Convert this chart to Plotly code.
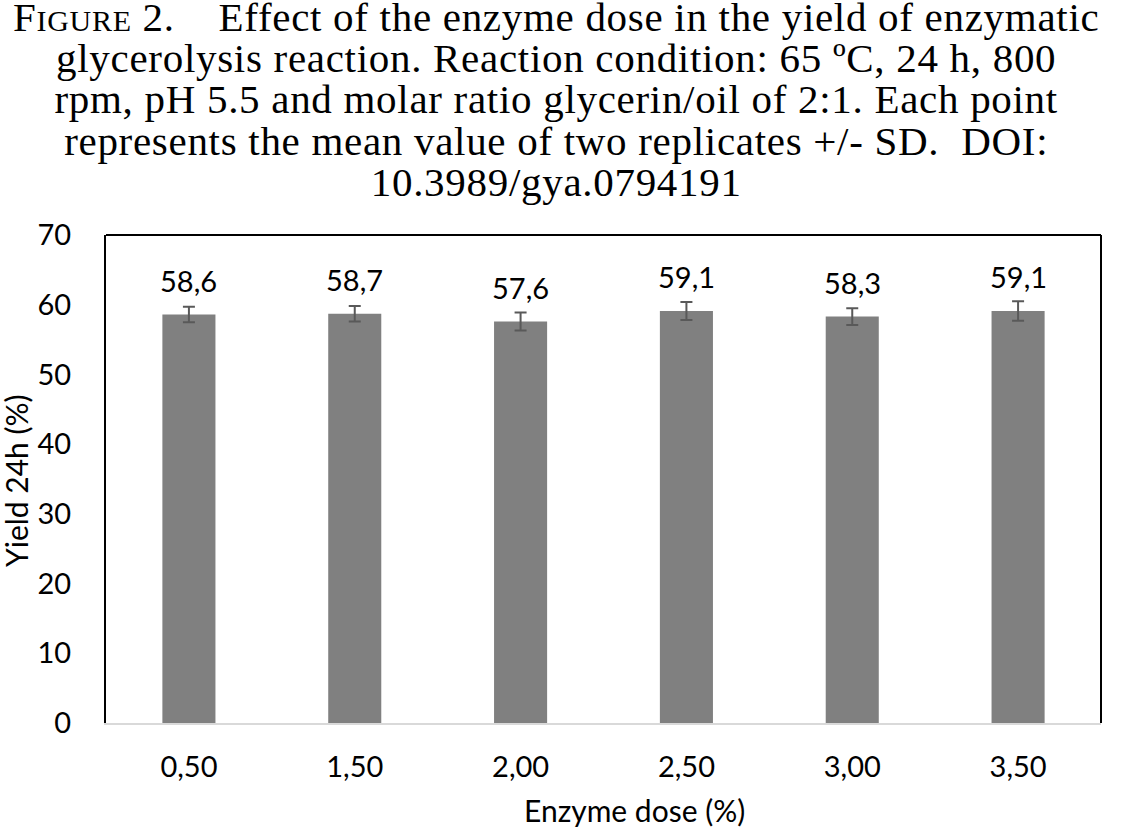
import plotly.graph_objects as go

categories = ["0,50", "1,50", "2,00", "2,50", "3,00", "3,50"]
yield_values = [58.6, 58.7, 57.6, 59.1, 58.3, 59.1]
sd_values = [1.1, 1.1, 1.3, 1.3, 1.2, 1.4]
y_ticks = [0, 10, 20, 30, 40, 50, 60, 70]

title_lines = [
    "F<span style='font-size:30px'>IGURE</span> 2.\u00a0\u00a0\u00a0\u00a0Effect of the enzyme dose in the yield of enzymatic",
    "glycerolysis reaction. Reaction condition: 65 ºC, 24 h, 800",
    "rpm, pH 5.5 and molar ratio glycerin/oil of 2:1. Each point",
    "represents the mean value of two replicates +/- SD.\u00a0\u00a0DOI:",
    "10.3989/gya.0794191",
]
x_title = "Enzyme dose (%)"
y_title = "Yield 24h (%)"

W, H = 1143, 828
ML, MR, MT, MB = 106, 42, 235, 105
plot_w = W - ML - MR
plot_h = H - MT - MB

SANS = "Lato, 'Open Sans', sans-serif"
SERIF = "'Liberation Serif', 'Times New Roman', serif"


def px_to_paper_x(px):
    return (px - ML) / plot_w


def px_to_paper_y(py):
    return (H - MB - py) / plot_h


fig = go.Figure()
fig.add_trace(go.Bar(
    x=categories, y=yield_values,
    marker=dict(color="#808080", line=dict(width=0)),
    error_y=dict(type="data", array=sd_values, visible=True,
                 color="#595959", thickness=2, width=6),
    hoverinfo="skip",
))

annotations = []
for c, v in zip(categories, yield_values):
    annotations.append(dict(
        x=c, y=v, xref="x", yref="y", text=f"{v:.1f}".replace(".", ","),
        showarrow=False, yanchor="middle", yshift=34,
        font=dict(family=SANS, size=29, color="#000000"),
    ))

# Caption: one block, tight line spacing (base size sets the line pitch)
caption = "<br>".join(
    "<span style='font-size:41px;letter-spacing:0.7px'>" + t + "</span>" for t in title_lines
)
annotations.append(dict(
    x=px_to_paper_x(556), y=px_to_paper_y(207), xref="paper", yref="paper",
    text=caption, showarrow=False, xanchor="center", yanchor="bottom",
    align="center",
    font=dict(family=SERIF, size=31.7, color="#000000"),
))

# axis titles
annotations.append(dict(
    x=px_to_paper_x(634), y=px_to_paper_y(810), xref="paper", yref="paper",
    text=x_title, showarrow=False, xanchor="center", yanchor="middle",
    font=dict(family=SANS, size=30, color="#000000"),
))
annotations.append(dict(
    x=px_to_paper_x(16), y=px_to_paper_y(481), xref="paper", yref="paper",
    text=y_title, showarrow=False, xanchor="center", yanchor="middle",
    textangle=-90,
    font=dict(family=SANS, size=30, color="#000000"),
))

fig.update_layout(
    width=W, height=H,
    margin=dict(l=ML, r=MR, t=MT, b=MB, pad=0),
    paper_bgcolor="white", plot_bgcolor="white",
    showlegend=False,
    bargap=0.68,
    annotations=annotations,
    xaxis=dict(
        tickfont=dict(family=SANS, size=29, color="#000"),
        showline=True, linecolor="#d9d9d9", linewidth=2,
        ticks="", ticklabelstandoff=17, showgrid=False,
        automargin=False,
    ),
    yaxis=dict(
        tickfont=dict(family=SANS, size=29, color="#000"),
        range=[0, 70], tickvals=y_ticks,
        showline=True, linecolor="#000", linewidth=2,
        ticks="", ticklabelstandoff=27, showgrid=False, zeroline=False,
        automargin=False,
    ),
    shapes=[
        dict(type="line", xref="paper", yref="paper", x0=0, x1=1, y0=1, y1=1,
             line=dict(color="#000", width=2)),
        dict(type="line", xref="paper", yref="paper", x0=1, x1=1, y0=0, y1=1,
             line=dict(color="#000", width=2)),
    ],
)

fig.write_html(
    "out.html",
    config={"displayModeBar": False},
    post_script="document.body.style.margin='0';document.body.style.overflow='hidden';",
)
